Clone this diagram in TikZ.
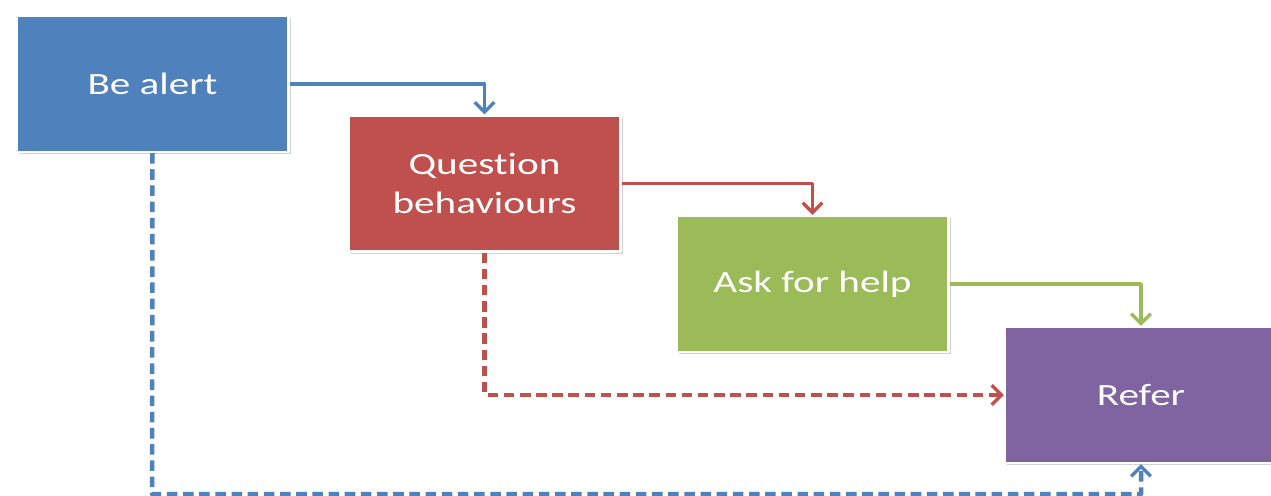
\documentclass[tikz,border=0pt]{standalone}
\usepackage{fontspec}
\setmainfont[Ligatures=NoCommon,FakeStretch=1.33]{Carlito}
\usetikzlibrary{arrows.meta,shadows}
\definecolor{stepblue}{HTML}{4F81BD}
\definecolor{stepred}{HTML}{C0504D}
\definecolor{stepgreen}{HTML}{9BBB59}
\definecolor{steppurple}{HTML}{8064A2}
\begin{document}
\begin{tikzpicture}[x=0.025cm,y=-0.025cm,>={Straight Barb[length=7pt,width=14pt,line width=2.4pt]},
    line join=round,
    stepbox/.style={draw=white,line width=1.5pt,minimum width=6.8cm,minimum height=3.4cm,
        text=white,align=center,font=\fontsize{22}{27.5}\selectfont,
        drop shadow={opacity=0.35,shadow xshift=1.5pt,shadow yshift=-1.5pt}},
    link/.style={->,line width=2.6pt},
    shortcut/.style={link,line width=3.2pt,dash pattern=on 7.5pt off 4pt}]
    \useasboundingbox (0,0) rectangle (1271,495);
    \node[stepbox,fill=stepblue] (alert) at (152.5,84) {Be alert};
    \node[stepbox,fill=stepred] (question) at (484.5,183.5) {Question\\behaviours};
    \node[stepbox,fill=stepgreen] (help) at (812.5,284) {Ask for help};
    \node[stepbox,fill=steppurple] (refer) at (1141,395) {Refer};
    \coordinate (corner) at (152,494);
    % solid steps
    \draw[link,stepblue] (alert.east) -| (question.north);
    \draw[link,stepred] (question.east) -| (help.north);
    \draw[link,stepgreen] (help.east) -| (refer.north);
    % dashed shortcuts
    \draw[shortcut,stepred] (question.south) |- (refer.west);
    \draw[shortcut,stepblue] (alert.south) -- (corner) -| (refer.south);
\end{tikzpicture}
\end{document}
